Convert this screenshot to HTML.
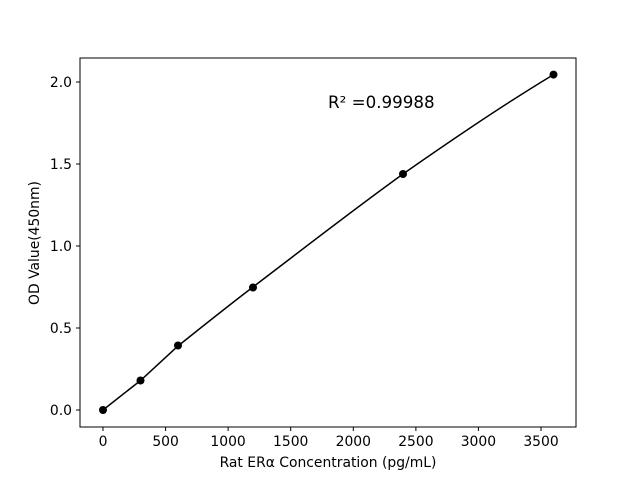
<!DOCTYPE html>
<html><head><meta charset="utf-8"><style>body{margin:0;background:#fff}</style></head>
<body>
<svg width="640" height="480" xmlns="http://www.w3.org/2000/svg" font-family="'DejaVu Sans', sans-serif">
<rect width="640" height="480" fill="#fff"/>
<rect x="80" y="58" width="496" height="369" fill="none" stroke="#000" stroke-width="1"/>
<g stroke="#000" stroke-width="1">
<line x1="103" y1="427" x2="103" y2="431"/><line x1="165.6" y1="427" x2="165.6" y2="431"/>
<line x1="228.1" y1="427" x2="228.1" y2="431"/><line x1="290.7" y1="427" x2="290.7" y2="431"/>
<line x1="353.3" y1="427" x2="353.3" y2="431"/><line x1="415.9" y1="427" x2="415.9" y2="431"/>
<line x1="478.4" y1="427" x2="478.4" y2="431"/><line x1="541" y1="427" x2="541" y2="431"/>
<line x1="76" y1="410" x2="80" y2="410"/><line x1="76" y1="328" x2="80" y2="328"/>
<line x1="76" y1="246" x2="80" y2="246"/><line x1="76" y1="164" x2="80" y2="164"/>
<line x1="76" y1="82" x2="80" y2="82"/>
</g>
<g font-size="13.9" text-anchor="middle" fill="#000">
<text x="103" y="446">0</text><text x="165.6" y="446">500</text><text x="228.1" y="446">1000</text>
<text x="290.7" y="446">1500</text><text x="353.3" y="446">2000</text><text x="415.9" y="446">2500</text>
<text x="478.4" y="446">3000</text><text x="541" y="446">3500</text>
</g>
<g font-size="13.9" text-anchor="end" fill="#000">
<text x="72" y="415">0.0</text><text x="72" y="333">0.5</text><text x="72" y="251">1.0</text>
<text x="72" y="169">1.5</text><text x="72" y="87">2.0</text>
</g>
<text x="328" y="467" font-size="13.9" text-anchor="middle">Rat ERα Concentration (pg/mL)</text>
<text x="39" y="243" font-size="13.9" text-anchor="middle" transform="rotate(-90 39 243)">OD Value(450nm)</text>
<text x="328" y="108" font-size="16.7">R² =0.99988</text>
<path fill="none" stroke="#000" stroke-width="1.5" d="M103,410 L140.5,380.5 L178,346 C203,326 228,306 253,287 C303,249 353,210 403,174 C453,139 503,105 553.5,74.6"/>
<g fill="#000">
<circle cx="103" cy="410" r="4"/><circle cx="140.5" cy="380.5" r="4"/><circle cx="178" cy="345.5" r="4"/>
<circle cx="253" cy="287.5" r="4"/><circle cx="403" cy="174" r="4"/><circle cx="553.5" cy="74.6" r="4"/>
</g>
</svg>
</body></html>
